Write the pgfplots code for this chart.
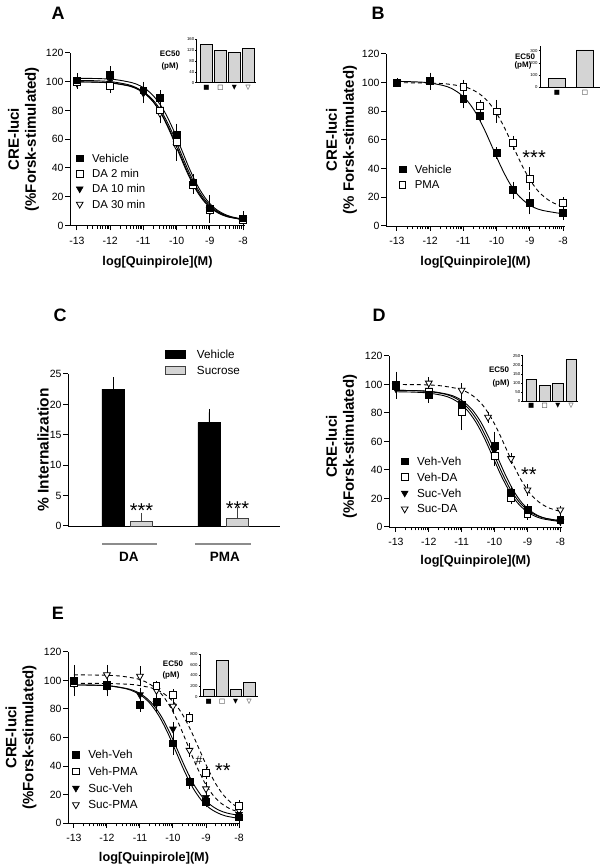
\documentclass[border=0pt]{standalone}
\usepackage{fontspec}
\setmainfont{Liberation Sans}
\newfontfamily\symf{DejaVu Sans}
\usepackage{pgfplots}
\pgfplotsset{compat=1.18}
\definecolor{barg}{HTML}{D4D4D4}
\definecolor{lineg}{HTML}{8C8C8C}
\newcommand\tickf{\fontsize{10.5}{12}\selectfont}
\newcommand\xlabf{\bfseries\fontsize{12.7}{14}\selectfont}
\newcommand\ylabf{\bfseries\fontsize{15}{17}\selectfont}
\newcommand\legf{\fontsize{11.4}{13}\selectfont}
\newcommand\starf{\fontsize{20}{20}\selectfont}
\newcommand\panf{\bfseries\fontsize{18}{20}\selectfont}
\newcommand\ecf{\bfseries\fontsize{8}{9}\selectfont}
\pgfplotsset{
 base/.style={scale only axis, anchor=south west, axis lines=left, axis line style={-, line width=0.9pt},
   tick style={black, line width=1pt},
   tick align=outside, major tick length=4.8pt,
   /pgf/number format/assume math mode=true, tick label style={font=\tickf}, clip=false,
   yticklabel style={inner sep=1.5pt}},
 dose/.style={base, ymin=0, ymax=120, ytick={0,20,40,60,80,100,120}, xtick={-13,-12,-11,-10,-9,-8},
   extra x ticks={-12.699,-12.523,-12.398,-12.301,-12.222,-12.155,-12.097,-12.046,-11.699,-11.523,-11.398,-11.301,-11.222,-11.155,-11.097,-11.046,-10.699,-10.523,-10.398,-10.301,-10.222,-10.155,-10.097,-10.046,-9.699,-9.523,-9.398,-9.301,-9.222,-9.155,-9.097,-9.046,-8.699,-8.523,-8.398,-8.301,-8.222,-8.155,-8.097,-8.046},
   extra x tick style={major tick length=3.3pt, tick style={black, line width=0.9pt}, xticklabel={}},
   xticklabel style={yshift=-3pt},
   xlabel={log[Quinpirole](M)}, xlabel style={font=\xlabf, anchor=center},
   ylabel style={font=\ylabf, align=center, anchor=center},
   legend style={draw=none, fill=none, inner sep=0pt, anchor=north west, font=\legf,
     column sep=8pt, nodes={inner sep=1pt, text height=8pt, text depth=0pt}},
   legend cell align=left, reverse legend},
 pts/.style={only marks,
   legend image code/.code={\draw[mark repeat=2,mark phase=2,##1] plot coordinates {(0pt,0pt)(1pt,0pt)(2pt,0pt)};},
   error bars/y dir=both, error bars/y explicit,
   error bars/error bar style={line width=0.8pt, black, solid},
   error bars/error mark options={line width=0.8pt, black, mark size=2.8pt}},
 fsq/.style={pts, mark=square*, mark size=3.4pt, mark options={solid, fill=black, draw=black, line width=0.6pt}},
 osq/.style={pts, mark=square*, mark size=3.4pt, mark options={solid, fill=white, draw=black, line width=0.8pt}},
 ftri/.style={pts, mark=triangle*, mark size=3.9pt, mark options={solid, fill=black, draw=black, rotate=180, line width=0.6pt}},
 otri/.style={pts, mark=triangle*, mark size=3.9pt, mark options={solid, fill=white, draw=black, rotate=180, line width=0.8pt}},
 curve/.style={black, line width=0.9pt, smooth, mark=none, forget plot},
 dcurve/.style={curve, dash pattern=on 4pt off 3pt},
 inset/.style={scale only axis, anchor=south west, axis lines=left, axis line style={-, line width=0.7pt},
   ymin=0, xtick={1,2,3,4}, xticklabels={■,□,▼,▽},
   xticklabel style={font=\symf\fontsize{6.5}{7}\selectfont, inner sep=1pt},
   xtick style={draw=none}, ytick style={line width=0.5pt, black}, major tick length=1.5pt, tick align=outside,
   yticklabel style={font=\fontsize{4.3}{5}\selectfont, inner sep=0.8pt},
   /pgf/number format/assume math mode=true, clip=false},
 ibar/.style={ybar, bar shift=0, fill=barg, draw=black, line width=0.8pt}
}
\begin{document}
\begin{tikzpicture}
\useasboundingbox (0pt,0pt) rectangle (602pt,867pt);
% ---------------- Panel A ----------------
\node[font=\panf] at (58pt,854pt) {A};
\begin{axis}[dose, at={(70pt,641.5pt)}, width=175pt, height=172.5pt, xmin=-13.21, xmax=-7.94,
  ylabel={CRE-luci\\(\%Forsk-stimulated)},
  ylabel style={at={(axis description cs:-0.266,0.5)}},
  xlabel style={at={(axis description cs:0.5,-0.212)}},
  legend style={at={(axis description cs:0.035,0.42)}, row sep=5.3pt}]
\addplot[curve] coordinates {(-13,102.4) (-12.35,102.2) (-11.85,101.5) (-11.35,99.4) (-11.1,97.2) (-10.85,93.5) (-10.6,87.5) (-10.35,78.6) (-10.1,66.7) (-9.85,52.8) (-9.6,38.8) (-9.35,26.9) (-9.1,18.0) (-8.85,12.0) (-8.6,8.3) (-8.35,6.1) (-8,4.4)};
\addplot[curve] coordinates {(-13,99.9) (-12.43,99.7) (-11.93,99.0) (-11.43,97.0) (-11.18,94.8) (-10.93,91.2) (-10.68,85.4) (-10.43,76.7) (-10.18,65.1) (-9.93,51.5) (-9.68,37.9) (-9.43,26.3) (-9.18,17.6) (-8.93,11.8) (-8.68,8.2) (-8.43,6.0) (-8,4.1)};
\addplot[curve] coordinates {(-13,100.9) (-12.46,100.7) (-11.96,100.0) (-11.46,98.0) (-11.21,95.8) (-10.96,92.1) (-10.71,86.2) (-10.46,77.5) (-10.21,65.7) (-9.96,52.0) (-9.71,38.3) (-9.46,26.5) (-9.21,17.8) (-8.96,11.9) (-8.71,8.2) (-8.46,6.0) (-8,4.1)};
\addplot[curve] coordinates {(-13,99.9) (-12.39,99.7) (-11.89,99.0) (-11.39,97.0) (-11.14,94.8) (-10.89,91.2) (-10.64,85.4) (-10.39,76.7) (-10.14,65.1) (-9.89,51.5) (-9.64,37.9) (-9.39,26.3) (-9.14,17.6) (-8.89,11.8) (-8.64,8.2) (-8.39,6.0) (-8,4.2)};
\addplot[otri] coordinates {(-13,99) +- (0,2) (-12,101) +- (0,3) (-11,93) +- (0,4) (-10.5,78) +- (0,5) (-10,55) +- (0,8) (-9.5,28) +- (0,4) (-9,11) +- (0,7) (-8,4) +- (0,2)};
\addlegendentry{DA 30 min}
\addplot[ftri] coordinates {(-13,100) +- (0,3) (-12,102) +- (0,3) (-11,92) +- (0,5) (-10.5,81) +- (0,4) (-10,57) +- (0,6) (-9.5,29) +- (0,3) (-9,10) +- (0,6) (-8,5) +- (0,2)};
\addlegendentry{DA 10 min}
\addplot[osq] coordinates {(-13,100) +- (0,2) (-12,97) +- (0,3) (-11,94) +- (0,4) (-10.5,80) +- (0,4) (-10,58) +- (0,5) (-9.5,28) +- (0,3) (-9,11) +- (0,5) (-8,4) +- (0,2)};
\addlegendentry{DA 2 min}
\addplot[fsq] coordinates {(-13,101) +- (0,3) (-12,105) +- (0,4) (-11,94) +- (0,4) (-10.5,89) +- (0,3) (-10,63) +- (0,6) (-9.5,30) +- (0,4) (-9,12) +- (0,7) (-8,5) +- (0,3)};
\addlegendentry{Vehicle}
\end{axis}
\begin{axis}[inset, at={(196.7pt,784.3pt)}, width=59.3pt, height=43.4pt, xmin=0.295, xmax=4.56, ymax=160, ytick={0,40,80,120,160}]
\addplot[ibar, bar width=0.84] coordinates {(1,142) (2,118) (3,110) (4,127)};
\end{axis}
\node[font=\ecf] at (170pt,813pt) {EC50};
\node[font=\ecf] at (170pt,801pt) {(pM)};
% ---------------- Panel B ----------------
\node[font=\panf] at (378pt,854pt) {B};
\begin{axis}[dose, at={(386pt,641pt)}, width=179pt, height=172pt, xmin=-13.33, xmax=-7.94,
  ylabel={CRE-luci\\(\% Forsk-stimulated)},
  ylabel style={at={(axis description cs:-0.249,0.5)}},
  xlabel style={at={(axis description cs:0.5,-0.209)}},
  legend style={at={(axis description cs:0.072,0.36)}, row sep=5.3pt}]
\addplot[curve] coordinates {(-13,100.9) (-12.62,100.7) (-12.12,100.1) (-11.62,98.1) (-11.37,96.1) (-11.12,92.5) (-10.87,87.0) (-10.62,78.7) (-10.37,67.5) (-10.12,54.5) (-9.87,41.5) (-9.62,30.3) (-9.37,22.0) (-9.12,16.5) (-8.87,12.9) (-8.62,10.9) (-8.12,8.9) (-8,8.7)};
\addplot[dcurve] coordinates {(-13,100) (-12,99.7) (-11.5,99.1) (-11,97.3) (-10.75,95.3) (-10.5,91.9) (-10.25,86.6) (-10,78.6) (-9.75,68.0) (-9.5,55.5) (-9.25,43.0) (-9,32.4) (-8.75,24.4) (-8.5,19.1) (-8.25,15.7) (-8,13.7)};
\addplot[osq] coordinates {(-13,100) +- (0,1) (-12,101) +- (0,2) (-11,97) +- (0,3) (-10.5,84) +- (0,2) (-10,80) +- (0,6) (-9.5,58) +- (0,3) (-9,33) +- (0,6) (-8,16) +- (0,2)};
\addlegendentry{PMA}
\addplot[fsq] coordinates {(-13,100) +- (0,1) (-12,101) +- (0,4) (-11,89) +- (0,5) (-10.5,77) +- (0,2) (-10,51) +- (0,2) (-9.5,25) +- (0,4) (-9,16) +- (0,6) (-8,9) +- (0,3)};
\addlegendentry{Vehicle}
\node[font=\starf] at (axis cs:-8.87,47.5) {***};
\end{axis}
\begin{axis}[inset, at={(540pt,779.7pt)}, width=60pt, height=41.5pt, xmin=0.393, xmax=2.54, ymax=340, ytick={0,100,200,300}, xtick={1,2}, xticklabels={■,□}]
\addplot[ibar, bar width=0.62] coordinates {(1,74) (2,306)};
\end{axis}
\node[font=\ecf] at (525pt,810.3pt) {EC50};
\node[font=\ecf] at (523pt,802pt) {(pM)};
% ---------------- Panel C ----------------
\node[font=\panf] at (60pt,552pt) {C};
\begin{axis}[base, at={(68pt,341pt)}, width=212pt, height=152pt, xmin=0.385, xmax=2.594, ymin=0, ymax=25,
  ytick={0,5,10,15,20,25}, xtick=\empty,
  ylabel={\% Internalization},
  ylabel style={font=\bfseries\fontsize{15.5}{17}\selectfont, at={(axis description cs:-0.118,0.5)}, anchor=center},
  legend style={at={(axis description cs:0.4575,1.166)}, anchor=north west, draw=none, fill=none, inner sep=0pt,
    font=\fontsize{11.7}{13}\selectfont, row sep=5.5pt, column sep=10pt, nodes={inner sep=1pt, text height=8.5pt, text depth=0pt}},
  legend cell align=left]
\addplot[ybar, bar width=0.23, bar shift=0, fill=black, draw=black, line width=0.8pt,
  legend image code/.code={\draw[fill=black, draw=black, line width=0.8pt] (0pt,-3.8pt) rectangle (20pt,3.8pt);},
  error bars/y dir=plus, error bars/y explicit,
  error bars/error bar style={line width=0.8pt, black},
  error bars/error mark options={line width=0.8pt, black, mark size=3.5pt}]
  coordinates {(0.854,22.5) +- (0,1.4) (1.854,17.0) +- (0,1.7)};
\addlegendentry{Vehicle}
\addplot[ybar, bar width=0.23, bar shift=0, fill=barg, draw=black!75, line width=0.8pt,
  legend image code/.code={\draw[fill=barg, draw=black!75, line width=0.8pt] (0pt,-3.8pt) rectangle (20pt,3.8pt);},
  error bars/y dir=plus, error bars/y explicit,
  error bars/error bar style={line width=0.8pt, black!75},
  error bars/error mark options={line width=0.8pt, black!75, mark size=3.5pt}]
  coordinates {(1.151,0.7) +- (0,0.9) (2.151,1.3) +- (0,1.3)};
\addlegendentry{Sucrose}
\node[font=\starf] at (axis cs:1.151,2.5) {***};
\node[font=\starf] at (axis cs:2.151,2.9) {***};
\draw[lineg, line width=1.6pt] (axis cs:0.74,-2.96) -- (axis cs:1.31,-2.96);
\draw[lineg, line width=1.6pt] (axis cs:1.708,-2.96) -- (axis cs:2.29,-2.96);
\node[font=\bfseries\fontsize{13.5}{15}\selectfont] at (axis cs:1.02,-5.1) {DA};
\node[font=\bfseries\fontsize{13.5}{15}\selectfont] at (axis cs:2.02,-5.1) {PMA};
\end{axis}
% ---------------- Panel D ----------------
\node[font=\panf] at (379pt,552pt) {D};
\begin{axis}[dose, at={(389pt,340pt)}, width=173pt, height=171pt, xmin=-13.21, xmax=-7.95,
  ylabel={CRE-luci\\(\%Forsk-stimulated)},
  ylabel style={at={(axis description cs:-0.275,0.47)}},
  xlabel style={at={(axis description cs:0.5,-0.199)}},
  legend style={at={(axis description cs:0.07,0.415)}, row sep=5.9pt, font=\fontsize{11.7}{13}\selectfont}]
\addplot[curve] coordinates {(-13,95.9) (-12.42,95.7) (-11.92,95.1) (-11.42,93.1) (-11.17,91.1) (-10.92,87.5) (-10.67,82.0) (-10.42,73.7) (-10.17,62.5) (-9.92,49.5) (-9.67,36.5) (-9.42,25.3) (-9.17,17.0) (-8.92,11.5) (-8.67,7.9) (-8.42,5.9) (-8,4.1)};
\addplot[curve] coordinates {(-13,94.9) (-12.55,94.7) (-12.05,94.1) (-11.55,92.2) (-11.3,90.1) (-11.05,86.6) (-10.8,81.1) (-10.55,72.9) (-10.3,61.9) (-10.05,49.0) (-9.8,36.1) (-9.55,25.1) (-9.3,16.9) (-9.05,11.4) (-8.8,7.9) (-8.55,5.8) (-8.05,3.9) (-8,3.8)};
\addplot[curve] coordinates {(-13,95.9) (-12.5,95.7) (-12,95.1) (-11.5,93.2) (-11.25,91.1) (-11,87.6) (-10.75,82.0) (-10.5,73.8) (-10.25,62.7) (-10,49.8) (-9.75,36.8) (-9.5,25.7) (-9.25,17.5) (-9,11.9) (-8.75,8.4) (-8.5,6.3) (-8,4.4)};
\addplot[dcurve] coordinates {(-13,100) (-12.14,99.8) (-11.64,99.1) (-11.14,97.2) (-10.89,95.2) (-10.64,91.7) (-10.39,86.3) (-10.14,78.1) (-9.89,67.2) (-9.64,54.5) (-9.39,41.8) (-9.14,30.9) (-8.89,22.7) (-8.64,17.3) (-8.39,13.8) (-8.14,11.8) (-8,11.0)};
\addplot[otri] coordinates {(-13,99) +- (0,3) (-12,101) +- (0,2) (-11,96) +- (0,3) (-10.2,77) +- (0,2) (-9.5,48) +- (0,2) (-9,26) +- (0,2) (-8,12) +- (0,1)};
\addlegendentry{Suc-DA}
\addplot[ftri] coordinates {(-13,97) +- (0,5) (-12,96) +- (0,4) (-11,86) +- (0,8) (-10,54) +- (0,5) (-9.5,22) +- (0,2) (-9,11) +- (0,2) (-8,4) +- (0,1)};
\addlegendentry{Suc-Veh}
\addplot[osq] coordinates {(-13,99) +- (0,5) (-12,95) +- (0,3) (-11,81) +- (0,11) (-10,50) +- (0,5) (-9.5,20) +- (0,2) (-9,9) +- (0,2) (-8,5) +- (0,1)};
\addlegendentry{Veh-DA}
\addplot[fsq] coordinates {(-13,100) +- (0,7) (-12,93) +- (0,4) (-11,86) +- (0,6) (-10,57) +- (0,8) (-9.5,24) +- (0,3) (-9,12) +- (0,2) (-8,5) +- (0,2)};
\addlegendentry{Veh-Veh}
\node[font=\starf] at (axis cs:-8.96,37) {**};
\end{axis}
\begin{axis}[inset, at={(522.7pt,466pt)}, width=55.3pt, height=45.3pt, xmin=0.353, xmax=4.51, ymax=250, ytick={0,50,100,150,200,250}]
\addplot[ibar, bar width=0.8] coordinates {(1,120) (2,87) (3,98) (4,228)};
\end{axis}
\node[font=\ecf] at (499pt,497.7pt) {EC50};
\node[font=\ecf] at (501pt,483.7pt) {(pM)};
% ---------------- Panel E ----------------
\node[font=\panf] at (58pt,254pt) {E};
\begin{axis}[dose, at={(68pt,44pt)}, width=172pt, height=171pt, xmin=-13.18, xmax=-7.97,
  ylabel={CRE-luci\\(\%Forsk-stimulated)},
  ylabel style={at={(axis description cs:-0.273,0.5)}},
  xlabel style={at={(axis description cs:0.5,-0.205)}},
  legend style={at={(axis description cs:0.025,0.43)}, row sep=6.7pt, font=\fontsize{11.7}{13}\selectfont}]
\addplot[curve] coordinates {(-13,96.9) (-12.4,96.7) (-11.9,96.1) (-11.4,94.1) (-11.15,91.9) (-10.9,88.4) (-10.65,82.7) (-10.4,74.2) (-10.15,62.8) (-9.9,49.5) (-9.65,36.2) (-9.4,24.8) (-9.15,16.3) (-8.9,10.6) (-8.65,7.1) (-8.4,4.9) (-8,3.2)};
\addplot[curve] coordinates {(-13,96.9) (-12.35,96.7) (-11.85,96.1) (-11.35,94.1) (-11.1,92.1) (-10.85,88.5) (-10.6,83.0) (-10.35,74.7) (-10.1,63.5) (-9.85,50.5) (-9.6,37.5) (-9.35,26.3) (-9.1,18.0) (-8.85,12.5) (-8.6,8.9) (-8.35,6.9) (-8,5.3)};
\addplot[dcurve] coordinates {(-13,98) (-12,97.9) (-11.7,97.7) (-11.2,97.1) (-10.7,95.1) (-10.45,93.1) (-10.2,89.5) (-9.95,84.0) (-9.7,75.7) (-9.45,64.5) (-9.2,51.5) (-8.95,38.5) (-8.7,27.3) (-8.45,19.0) (-8.2,13.5) (-8,10.5)};
\addplot[dcurve] coordinates {(-13,104) (-12.05,103.7) (-11.55,103.0) (-11.05,101.0) (-10.8,98.7) (-10.55,95.0) (-10.3,89.1) (-10.05,80.2) (-9.8,68.4) (-9.55,54.5) (-9.3,40.6) (-9.05,28.8) (-8.8,19.9) (-8.55,14.0) (-8.3,10.3) (-8.05,8.0) (-8,7.7)};
\addplot[otri] coordinates {(-13,100) +- (0,4) (-12,104) +- (0,5) (-11,103) +- (0,5) (-10.5,93) +- (0,3) (-10,82) +- (0,3) (-9.5,51) +- (0,3) (-9,24) +- (0,3) (-8,9) +- (0,2)};
\addlegendentry{Suc-PMA}
\addplot[ftri] coordinates {(-13,98) +- (0,6) (-12,96) +- (0,5) (-11,90) +- (0,3) (-10.5,84) +- (0,4) (-10,66) +- (0,3) (-9.5,29) +- (0,2) (-9,18) +- (0,2) (-8,6) +- (0,2)};
\addlegendentry{Suc-Veh}
\addplot[osq] coordinates {(-13,98) +- (0,6) (-12,97) +- (0,3) (-10.5,96) +- (0,2) (-10,90) +- (0,2) (-9.5,74) +- (0,2) (-9,35) +- (0,2) (-8,12) +- (0,2)};
\addlegendentry{Veh-PMA}
\addplot[fsq] coordinates {(-13,100) +- (0,9) (-12,96) +- (0,5) (-11,83) +- (0,3) (-10.5,85) +- (0,4) (-10,56) +- (0,6) (-9.5,29) +- (0,3) (-9,15) +- (0,2) (-8,4) +- (0,2)};
\addlegendentry{Veh-Veh}
\node[font=\fontsize{12}{12}\selectfont] at (axis cs:-9.21,44.2) {\#};
\node[font=\starf] at (axis cs:-8.485,37) {**};
\end{axis}
\begin{axis}[inset, at={(200pt,170.3pt)}, width=58pt, height=42.4pt, xmin=0.35, xmax=4.65, ymax=800, ytick={0,200,400,600,800}]
\addplot[ibar, bar width=0.85] coordinates {(1,130) (2,680) (3,140) (4,277)};
\end{axis}
\node[font=\ecf] at (173pt,203pt) {EC50};
\node[font=\ecf] at (171pt,191.3pt) {(pM)};
\end{tikzpicture}
\end{document}
